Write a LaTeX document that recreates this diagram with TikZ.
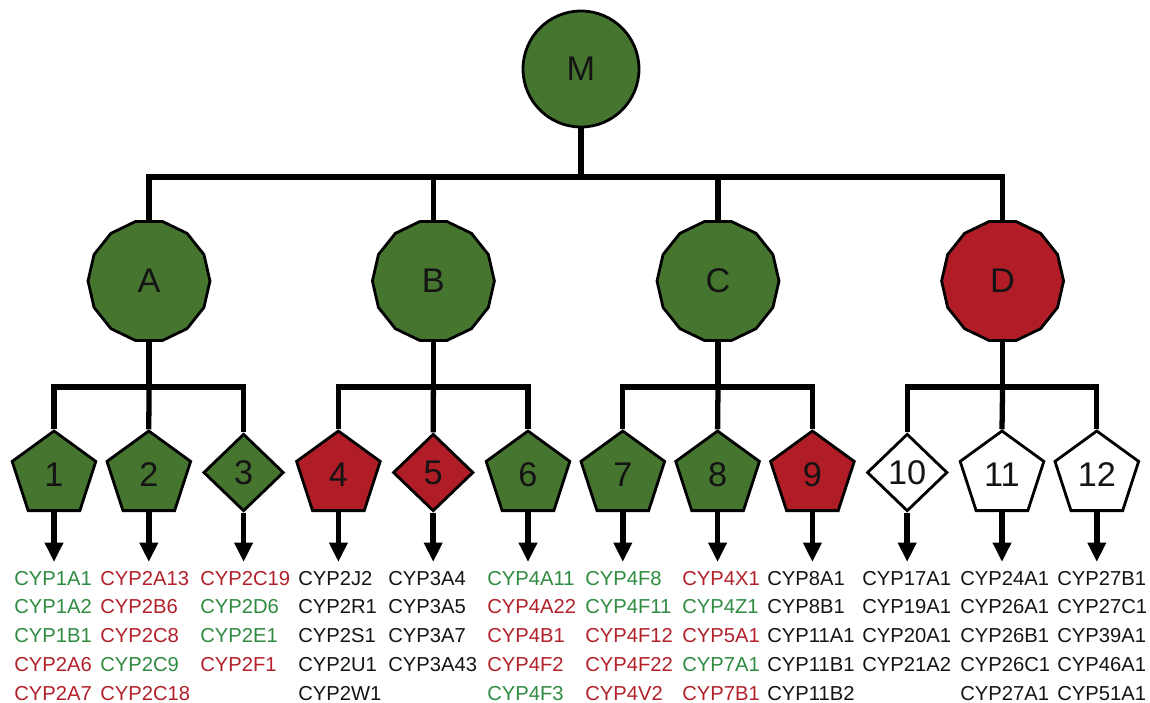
\documentclass[tikz,border=0pt]{standalone}
\usepackage{fontspec}
\setmainfont{Liberation Sans}
\usetikzlibrary{shapes.geometric,arrows.meta}
\definecolor{fillG}{RGB}{70,117,48}
\definecolor{fillR}{RGB}{176,29,38}
\definecolor{txtG}{RGB}{46,139,64}
\definecolor{txtR}{RGB}{178,32,42}
\definecolor{txtK}{RGB}{20,20,20}
\tikzset{
  basebox/.style={draw=black, line width=1.6pt, inner sep=0pt, text=txtK, font=\fontsize{19.5}{22}\selectfont},
  topc/.style={basebox, circle, minimum size=2.32cm},
  fam/.style={basebox, regular polygon, regular polygon sides=14, minimum size=2.44cm},
  pent/.style={basebox, regular polygon, regular polygon sides=5, minimum size=1.76cm},
  diam/.style={basebox, diamond, minimum width=1.61cm, minimum height=1.55cm},
  conn/.style={line width=3pt},
  arr/.style={line width=3.2pt, -{Triangle[width=10pt,length=11pt]}},
  cyp/.style={anchor=base west, inner sep=0pt, font=\fontsize{11.5}{13}\selectfont},
}
\newcommand\cypcolumn[3]{%
  \foreach \cc/\ww [count=\k] in {#3} {\node[cyp,text=\cc] (t-#1-\k) at (#2, {585+28.8*(\k-1)}) {\ww};}%
}
\begin{document}
\begin{tikzpicture}[x=0.02cm, y=-0.02cm]
\useasboundingbox (0,0) rectangle (1150,703);
% top
\node[topc, fill=fillG] (M) at (581,69) {M};
% families
\node[fam, fill=fillG] (A) at (149,281) {A};
\node[fam, fill=fillG] (B) at (433.4,281) {B};
\node[fam, fill=fillG] (C) at (718,281) {C};
\node[fam, fill=fillR] (D) at (1002.6,281) {D};
% subfamilies
\node[pent, fill=fillG] (n1) at (54,475) {1};
\node[pent, fill=fillG] (n2) at (148.8,475) {2};
\node[diam, fill=fillG] (n3) at (243.6,472.5) {3};
\node[pent, fill=fillR] (n4) at (338.4,475) {4};
\node[diam, fill=fillR] (n5) at (433.2,472.5) {5};
\node[pent, fill=fillG] (n6) at (528,475) {6};
\node[pent, fill=fillG] (n7) at (622.8,475) {7};
\node[pent, fill=fillG] (n8) at (717.6,475) {8};
\node[pent, fill=fillR] (n9) at (812.4,475) {9};
\node[diam, fill=white] (n10) at (907.2,472.5) {10};
\node[pent, fill=white] (n11) at (1002,475) {11};
\node[pent, fill=white] (n12) at (1096.8,475) {12};
% connectors level 1
\coordinate (b0) at (581,177);
\draw[conn] (M.south) -- (b0);
\draw[conn] (A.north) |- (b0) -| (D.north);
\draw[conn] (B.north) -- (B.north |- b0);
\draw[conn] (C.north) -- (C.north |- b0);
% connectors level 2
\foreach \p/\a/\b/\c in {A/n1/n2/n3, B/n4/n5/n6, C/n7/n8/n9, D/n10/n11/n12} {
  \coordinate (bar\p) at (\p.south |- 0,387);
  \draw[conn] (\p.south) -- (bar\p);
  \draw[conn] (\a.north) |- (bar\p) -| (\c.north);
  \draw[conn] (bar\p) -- (\b.north);
}
% arrows
\foreach \i in {1,...,12} {
  \coordinate (e\i) at (n\i.south |- 0,562);
  \draw[arr] (n\i.south) -- (e\i);
}
% gene lists
\cypcolumn{1}{14}{txtG/CYP1A1, txtG/CYP1A2, txtG/CYP1B1, txtR/CYP2A6, txtR/CYP2A7}
\cypcolumn{2}{100}{txtR/CYP2A13, txtR/CYP2B6, txtR/CYP2C8, txtG/CYP2C9, txtR/CYP2C18}
\cypcolumn{3}{200}{txtR/CYP2C19, txtG/CYP2D6, txtG/CYP2E1, txtR/CYP2F1}
\cypcolumn{4}{298}{txtK/CYP2J2, txtK/CYP2R1, txtK/CYP2S1, txtK/CYP2U1, txtK/CYP2W1}
\cypcolumn{5}{388}{txtK/CYP3A4, txtK/CYP3A5, txtK/CYP3A7, txtK/CYP3A43}
\cypcolumn{6}{487}{txtG/CYP4A11, txtR/CYP4A22, txtR/CYP4B1, txtR/CYP4F2, txtG/CYP4F3}
\cypcolumn{7}{585}{txtG/CYP4F8, txtG/CYP4F11, txtR/CYP4F12, txtR/CYP4F22, txtR/CYP4V2}
\cypcolumn{8}{682}{txtR/CYP4X1, txtG/CYP4Z1, txtR/CYP5A1, txtG/CYP7A1, txtR/CYP7B1}
\cypcolumn{9}{767}{txtK/CYP8A1, txtK/CYP8B1, txtK/CYP11A1, txtK/CYP11B1, txtK/CYP11B2}
\cypcolumn{10}{862}{txtK/CYP17A1, txtK/CYP19A1, txtK/CYP20A1, txtK/CYP21A2}
\cypcolumn{11}{960}{txtK/CYP24A1, txtK/CYP26A1, txtK/CYP26B1, txtK/CYP26C1, txtK/CYP27A1}
\cypcolumn{12}{1057}{txtK/CYP27B1, txtK/CYP27C1, txtK/CYP39A1, txtK/CYP46A1, txtK/CYP51A1}
\end{tikzpicture}
\end{document}
